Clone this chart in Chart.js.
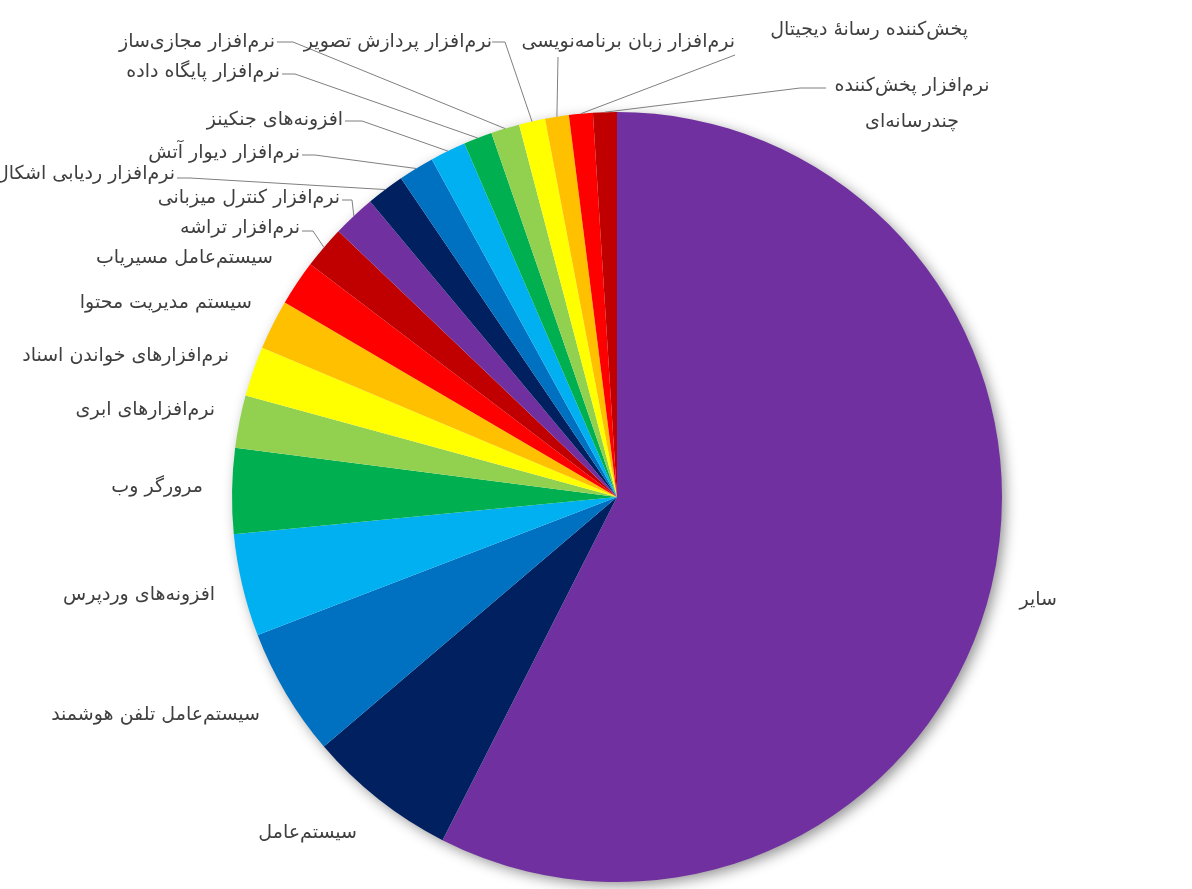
<!DOCTYPE html>
<html lang="fa">
<head>
<meta charset="utf-8">
<title>Pie chart</title>
<script src="https://cdn.jsdelivr.net/npm/chart.js@4/dist/chart.umd.min.js"></script>
<style>
  html, body { margin: 0; padding: 0; background: #ffffff; }
  #wrap { width: 1192px; height: 889px; position: relative; }
</style>
</head>
<body>
<div id="wrap"><canvas id="myPieChart"></canvas></div>
<script>
// categories, clockwise from 12 o'clock
var categories = [
  'سایر',
  'سیستم‌عامل',
  'سیستم‌عامل تلفن هوشمند',
  'افزونه‌های وردپرس',
  'مرورگر وب',
  'نرم‌افزارهای ابری',
  'نرم‌افزارهای خواندن اسناد',
  'سیستم مدیریت محتوا',
  'سیستم‌عامل مسیریاب',
  'نرم‌افزار تراشه',
  'نرم‌افزار کنترل میزبانی',
  'نرم‌افزار ردیابی اشکال',
  'نرم‌افزار دیوار آتش',
  'افزونه‌های جنکینز',
  'نرم‌افزار پایگاه داده',
  'نرم‌افزار مجازی‌ساز',
  'نرم‌افزار پردازش تصویر',
  'نرم‌افزار زبان برنامه‌نویسی',
  'پخش‌کننده رسانهٔ دیجیتال',
  'نرم‌افزار پخش‌کننده چندرسانه‌ای'
];

// share of each category (%)
var shares = [57.6, 6.3, 5.4, 4.3, 3.6, 2.2, 2.1, 2.1, 1.9, 1.8,
              1.8, 1.6, 1.5, 1.5, 1.2, 1.2, 1.1, 1.0, 1.0, 1.0];

// excel style palette, repeats every 10 slices
var palette = ['#7030A0', '#002060', '#0070C0', '#00B0F0', '#00B050',
               '#92D050', '#FFFF00', '#FFC000', '#FF0000', '#C00000'];

// where each label sits (right edge x, middle y), plus optional leader line points
var labelLayout = [
  { x: 1057, y: 600 },
  { x: 357, y: 833 },
  { x: 260, y: 715 },
  { x: 215, y: 595 },
  { x: 203, y: 487 },
  { x: 215, y: 410 },
  { x: 229, y: 356 },
  { x: 252, y: 303 },
  { x: 273, y: 258 },
  { x: 300, y: 228, line: [[302, 231], [313, 231]] },
  { x: 340, y: 198, line: [[342, 200], [352, 200]] },
  { x: 175, y: 174, line: [[177, 178], [190, 178]] },
  { x: 300, y: 153, line: [[302, 155], [315, 155]] },
  { x: 343, y: 120, line: [[345, 121], [362, 121]] },
  { x: 280, y: 72, line: [[282, 74], [295, 74]] },
  { x: 275, y: 42, line: [[277, 42], [293, 42]] },
  { x: 492, y: 42, line: [[492, 42], [505, 42]] },
  { x: 735, y: 42, line: [[558, 57]] },
  { x: 968, y: 30, line: [[735, 55]] },
  { x: 912, y: 86, align: 'center', lines: ['نرم‌افزار پخش‌کننده', 'چندرسانه‌ای'], line: [[826, 88], [800, 88]] }
];

var labelFont = '19px "DejaVu Sans", sans-serif';

// soft shadow under the whole pie
var pieShadow = {
  id: 'pieShadow',
  beforeDatasetsDraw: function (chart) {
    var arc = chart.getDatasetMeta(0).data[0];
    if (!arc) return;
    var ctx = chart.ctx;
    ctx.save();
    ctx.shadowColor = 'rgba(0,0,0,0.45)';
    ctx.shadowBlur = 14;
    ctx.shadowOffsetX = 4;
    ctx.shadowOffsetY = 4;
    ctx.fillStyle = '#ffffff';
    ctx.beginPath();
    ctx.arc(arc.x, arc.y, arc.outerRadius - 1, 0, Math.PI * 2);
    ctx.fill();
    ctx.restore();
  }
};

// data labels outside the pie, with leader lines for the thin slices
var outsideLabels = {
  id: 'outsideLabels',
  afterDatasetsDraw: function (chart) {
    var ctx = chart.ctx;
    var arcs = chart.getDatasetMeta(0).data;
    ctx.save();
    arcs.forEach(function (arc, i) {
      var p = arc.getProps(['x', 'y', 'startAngle', 'endAngle', 'outerRadius'], true);
      var mid = (p.startAngle + p.endAngle) / 2;
      var ex = p.x + Math.cos(mid) * p.outerRadius;
      var ey = p.y + Math.sin(mid) * p.outerRadius;
      var lay = labelLayout[i];

      if (lay.line) {
        ctx.strokeStyle = '#7f7f7f';
        ctx.lineWidth = 1;
        ctx.beginPath();
        ctx.moveTo(lay.line[0][0], lay.line[0][1]);
        for (var k = 1; k < lay.line.length; k++) ctx.lineTo(lay.line[k][0], lay.line[k][1]);
        ctx.lineTo(ex, ey);
        ctx.stroke();
      }

      ctx.fillStyle = '#3f3f3f';
      ctx.font = labelFont;
      ctx.direction = 'rtl';
      ctx.textBaseline = 'middle';
      if (lay.lines) {
        ctx.textAlign = 'center';
        lay.lines.forEach(function (t, j) {
          ctx.fillText(t, lay.x, lay.y + j * 36);
        });
      } else {
        ctx.textAlign = 'right';
        ctx.fillText(categories[i], lay.x, lay.y);
      }
    });
    ctx.restore();
  }
};

document.addEventListener("DOMContentLoaded", function () {
  var ctx = document.getElementById("myPieChart").getContext("2d");

  var colors = shares.map(function (v, i) { return palette[i % palette.length]; });

  var myPieChart = new Chart(ctx, {
    type: 'pie',
    data: {
      labels: categories,
      datasets: [{
        data: shares,
        backgroundColor: colors,
        borderWidth: 0
      }]
    },
    options: {
      responsive: true,
      maintainAspectRatio: false,
      animation: false,
      layout: {
        padding: { top: 112, bottom: 7, left: 232, right: 190 }
      },
      plugins: {
        legend: { display: false },
        tooltip: { enabled: false }
      }
    },
    plugins: [pieShadow, outsideLabels]
  });
});
</script>
</body>
</html>
